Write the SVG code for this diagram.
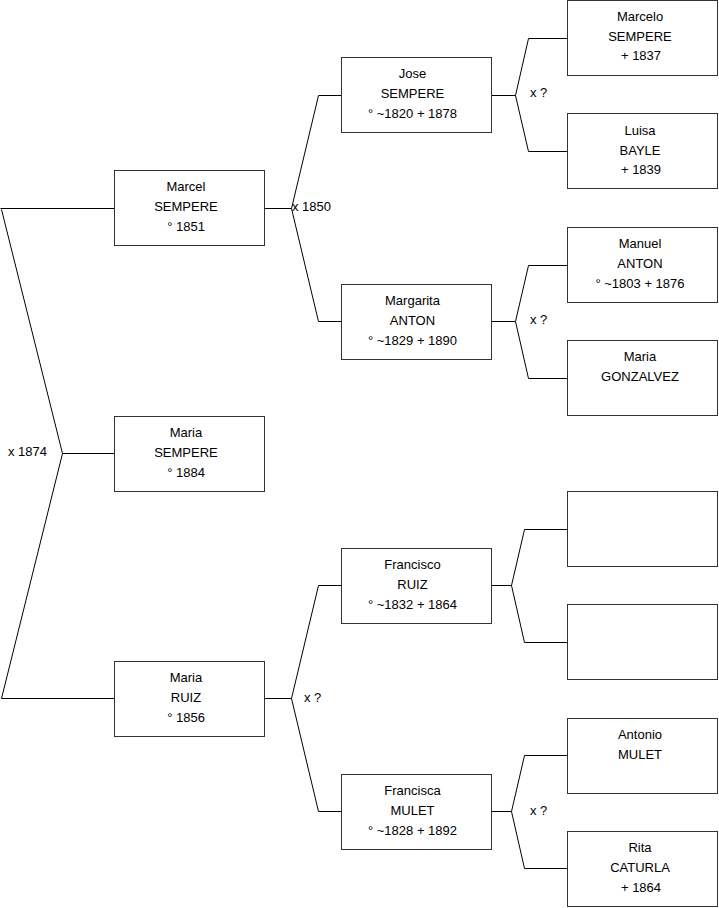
<svg xmlns="http://www.w3.org/2000/svg" width="719" height="908" viewBox="0 0 719 908">
<style>
rect{fill:#fff;stroke:#333;stroke-width:1}
text{font-family:"Liberation Sans",Arial,sans-serif;font-size:13px;fill:#000}
.c text{text-anchor:middle}
#connectors path{fill:none;stroke:#000;stroke-width:1}
</style>
<rect x="0" y="0" width="719" height="908" style="fill:#fff;stroke:none"/>
<g id="connectors">
<path d="M0.5,208.5H114M1.5,209.5L62.5,453.5L1.5,698.5M62.5,453.5H114M1.5,698.5H114"/>
<path d="M265,208.5H291.5M318.5,95.5L291.5,208.5L318.5,321.5M318.5,95.5H341M318.5,321.5H341"/>
<path d="M265,698.5H291.5M318.5,585.5L291.5,698.5L318.5,811.5M318.5,585.5H341M318.5,811.5H341"/>
<path d="M492,95.5H515.5M528.5,38.5L515.5,95.5L528.5,151.5M528.5,38.5H567M528.5,151.5H567"/>
<path d="M492,321.5H515.5M528.5,265.5L515.5,321.5L528.5,378.5M528.5,265.5H567M528.5,378.5H567"/>
<path d="M492,585.5H511.5M524.5,529.5L511.5,585.5L524.5,642.5M524.5,529.5H567M524.5,642.5H567"/>
<path d="M492,811.5H511.5M524.5,755.5L511.5,811.5L524.5,868.5M524.5,755.5H567M524.5,868.5H567"/>
<text x="8" y="456">x 1874</text>
<text x="292" y="211">x 1850</text>
<text x="304" y="702">x ?</text>
<text x="530" y="97">x ?</text>
<text x="530" y="324">x ?</text>
<text x="530" y="815">x ?</text>
</g>
<g id="marcel" class="c"><rect x="114.5" y="170.5" width="150" height="75"/><text x="186" y="191">Marcel</text><text x="186" y="211">SEMPERE</text><text x="186" y="231">° 1851</text></g>
<g id="maria-sempere" class="c"><rect x="114.5" y="416.5" width="150" height="75"/><text x="186" y="437">Maria</text><text x="186" y="457">SEMPERE</text><text x="186" y="477">° 1884</text></g>
<g id="maria-ruiz" class="c"><rect x="114.5" y="661.5" width="150" height="75"/><text x="186" y="682">Maria</text><text x="186" y="702">RUIZ</text><text x="186" y="722">° 1856</text></g>
<g id="jose" class="c"><rect x="341.5" y="57.5" width="150" height="75"/><text x="412.5" y="78">Jose</text><text x="412.5" y="98">SEMPERE</text><text x="412.5" y="118">° ~1820 + 1878</text></g>
<g id="margarita" class="c"><rect x="341.5" y="284.5" width="150" height="75"/><text x="412.5" y="305">Margarita</text><text x="412.5" y="325">ANTON</text><text x="412.5" y="345">° ~1829 + 1890</text></g>
<g id="francisco" class="c"><rect x="341.5" y="548.5" width="150" height="75"/><text x="412.5" y="569">Francisco</text><text x="412.5" y="589">RUIZ</text><text x="412.5" y="609">° ~1832 + 1864</text></g>
<g id="francisca" class="c"><rect x="341.5" y="774.5" width="150" height="75"/><text x="412.5" y="795">Francisca</text><text x="412.5" y="815">MULET</text><text x="412.5" y="835">° ~1828 + 1892</text></g>
<g id="marcelo" class="c"><rect x="567.5" y="0.5" width="150" height="75"/><text x="640" y="21">Marcelo</text><text x="640" y="40.5">SEMPERE</text><text x="641" y="60">+ 1837</text></g>
<g id="luisa" class="c"><rect x="567.5" y="113.5" width="150" height="75"/><text x="640" y="135">Luisa</text><text x="640" y="154.5">BAYLE</text><text x="641" y="174">+ 1839</text></g>
<g id="manuel" class="c"><rect x="567.5" y="227.5" width="150" height="75"/><text x="640" y="248">Manuel</text><text x="640" y="268">ANTON</text><text x="640" y="288">° ~1803 + 1876</text></g>
<g id="maria-gonzalvez" class="c"><rect x="567.5" y="340.5" width="150" height="75"/><text x="640" y="361">Maria</text><text x="640" y="381">GONZALVEZ</text></g>
<g id="unknown-father" class="c"><rect x="567.5" y="491.5" width="150" height="75"/></g>
<g id="unknown-mother" class="c"><rect x="567.5" y="604.5" width="150" height="75"/></g>
<g id="antonio" class="c"><rect x="567.5" y="718.5" width="150" height="75"/><text x="640" y="739">Antonio</text><text x="640" y="759">MULET</text></g>
<g id="rita" class="c"><rect x="567.5" y="831.5" width="150" height="75"/><text x="640" y="852">Rita</text><text x="640" y="872">CATURLA</text><text x="641" y="892">+ 1864</text></g>
</svg>
